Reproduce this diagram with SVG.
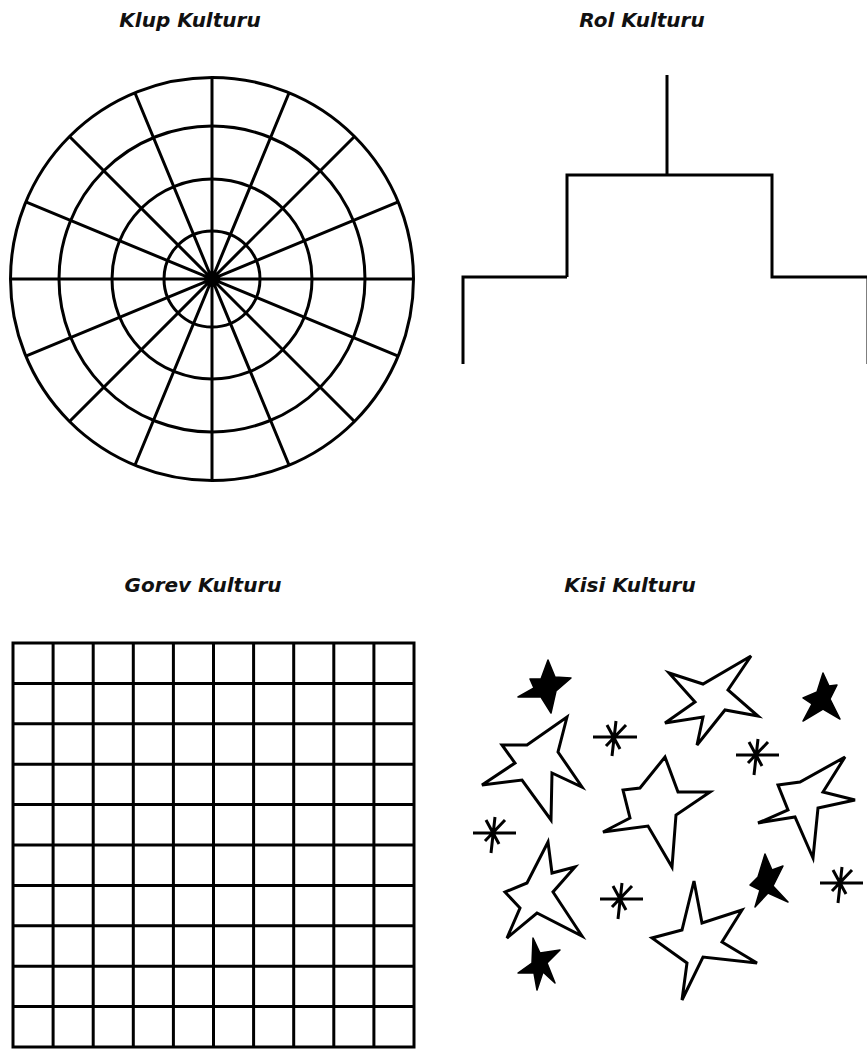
<svg xmlns="http://www.w3.org/2000/svg" width="867" height="1049" viewBox="0 0 867 1049">
<style>
.t{font-family:"DejaVu Sans",sans-serif;font-weight:bold;font-style:italic;font-size:20px;fill:#111;text-anchor:middle}
.ln{fill:none;stroke:#000;stroke-width:3;stroke-linecap:butt;stroke-linejoin:miter}
.os{fill:#fff;stroke:#000;stroke-width:3;stroke-linejoin:miter}
.fs{fill:#000;stroke:#000;stroke-width:1.5;stroke-linejoin:round}
.ast{fill:none;stroke:#000;stroke-width:3;stroke-linecap:butt}
</style>
<rect width="867" height="1049" fill="#fff"/>
<g id="titles">
<text class="t" x="190" y="27">Klup Kulturu</text>
<text class="t" x="642" y="27">Rol Kulturu</text>
<text class="t" x="203" y="592">Gorev Kulturu</text>
<text class="t" x="630" y="592">Kisi Kulturu</text>
</g>
<g id="klup">
<circle class="ln" cx="212" cy="279" r="201.5"/>
<circle class="ln" cx="212" cy="279" r="153"/>
<circle class="ln" cx="212" cy="279" r="100"/>
<circle class="ln" cx="212" cy="279" r="48"/>
<path class="ln" d="M10.5,279H413.5M25.8,201.9L398.2,356.1M69.5,136.5L354.5,421.5M134.9,92.8L289.1,465.2M212,77.5V480.5M289.1,92.8L134.9,465.2M354.5,136.5L69.5,421.5M398.2,201.9L25.8,356.1"/>
<circle cx="212" cy="279" r="4.5" fill="#000"/>
</g>
<g id="rol">
<path class="ln" d="M667,75V175M567,277V175H772V277H868V364M463,364V277H567"/>
</g>
<g id="gorev">
<rect class="ln" x="13" y="643" width="401" height="404"/>
<path class="ln" d="M53.1,643V1047M93.2,643V1047M133.3,643V1047M173.4,643V1047M213.5,643V1047M253.6,643V1047M293.7,643V1047M333.8,643V1047M373.9,643V1047M13,683.4H414M13,723.8H414M13,764.2H414M13,804.6H414M13,845H414M13,885.4H414M13,925.8H414M13,966.2H414M13,1006.6H414"/>
</g>
<g id="kisi">
<polygon class="fs" points="548,660 555,677 571,678 556,691 551,713 541,697 518,697 534,688 530,679 541,679"/>
<polygon class="fs" points="823,673 829,686 837,685 830,699 840,719 823,709 803,721 812,704 803,698 817,692"/>
<polygon class="fs" points="533,938 540,953 560,950 547,963 555,983 543,972 537,990 534,973 518,973 532,963"/>
<polygon class="fs" points="765,854 772,870 783,866 773,886 788,902 768,893 755,907 760,890 750,885 758,877"/>
<polygon class="os" points="567,717 558,752 582,787 552,773 551,820 522,780 482,785 515,763 502,745 527,745"/>
<polygon class="os" points="751,656 728,690 758,716 725,710 697,745 703,717 665,723 695,702 669,673 703,684"/>
<polygon class="os" points="845,757 823,792 855,800 818,808 813,858 795,817 758,823 788,810 778,785 800,782"/>
<polygon class="os" points="665,757 678,792 710,792 676,815 672,867 648,826 603,832 630,818 623,790 640,788"/>
<polygon class="os" points="548,842 552,873 575,867 553,892 582,936 537,913 507,938 520,908 505,892 527,883"/>
<polygon class="os" points="694,881 702,923 742,910 722,942 757,963 703,957 682,1000 687,963 652,938 682,930"/>
<g id="asterisks">
<path class="ast" d="M593,737H637M616,721L612,756M607,725L620,749M626,725L606,746"/>
<path class="ast" d="M736,755H779M758,739L754,775M749,742L762,766M768,742L748,763"/>
<path class="ast" d="M473,833H516M495,817L491,853M486,820L499,844M505,820L485,841"/>
<path class="ast" d="M600,899H643M622,883L618,919M613,886L626,910M632,886L612,907"/>
<path class="ast" d="M820,883H863M842,867L838,903M833,870L846,894M852,870L832,891"/>
</g>
</g>
</svg>
